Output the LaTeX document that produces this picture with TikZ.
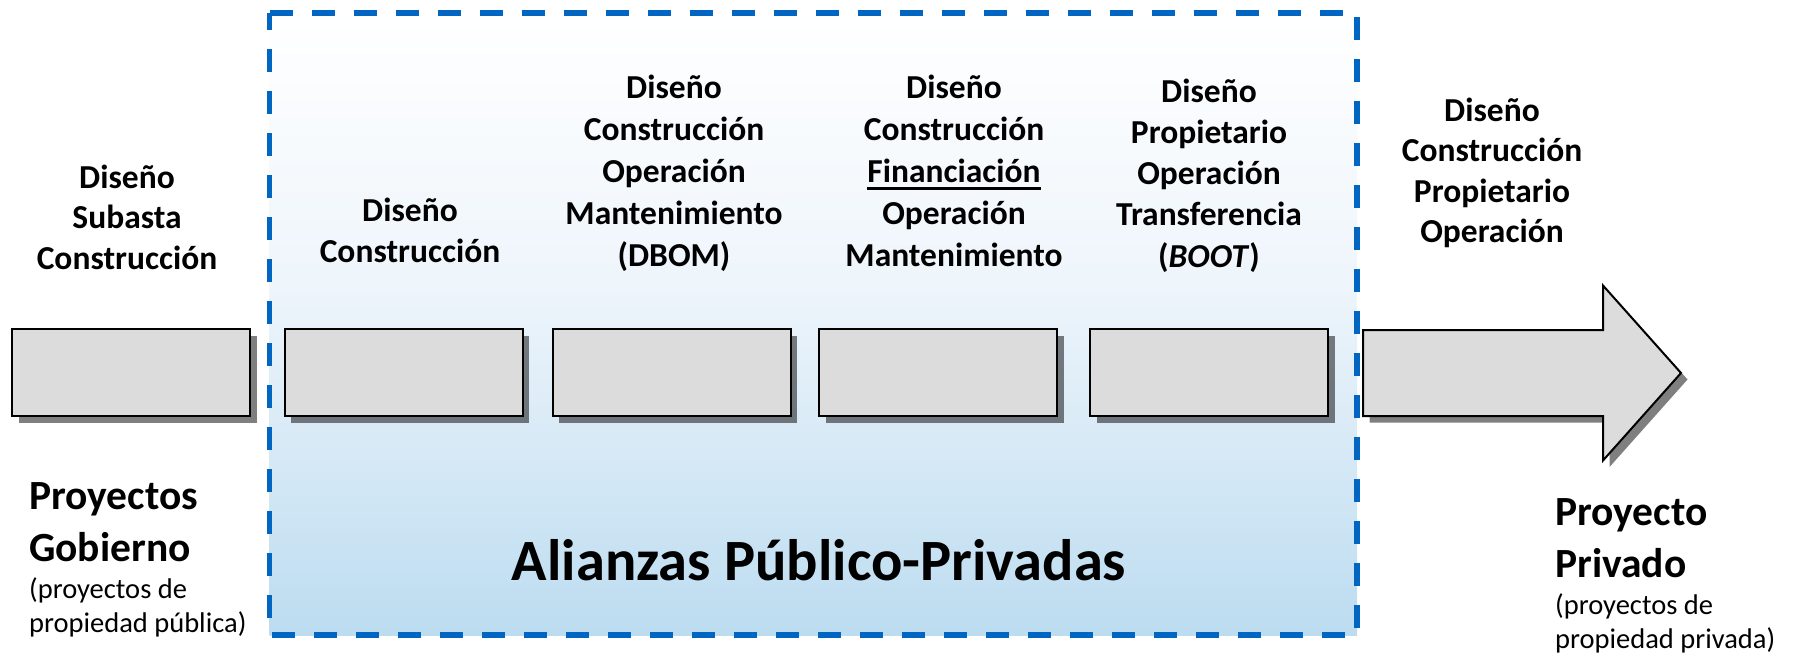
\documentclass[tikz,border=0pt]{standalone}
\usepackage{fontspec}
\setmainfont{Carlito}
\usetikzlibrary{shadows}
\definecolor{dashblue}{RGB}{0,102,194}
\definecolor{boxgray}{RGB}{220,220,220}
\definecolor{fillblue}{RGB}{188,220,240}
\definecolor{midblue}{RGB}{238,245,251}
\pgfdeclareverticalshading{pppshade}{100bp}{color(0bp)=(fillblue); color(25bp)=(fillblue); color(53bp)=(midblue); color(75bp)=(white); color(100bp)=(white)}
\newsavebox\ulbox
\newcommand\ulin[1]{\sbox\ulbox{#1}\rlap{\rule[-0.22em]{\wd\ulbox}{0.065em}}\usebox\ulbox}
\newcommand\topstrut{\rule{0pt}{0.9em}}
\tikzset{
  stepbox/.style={draw=black, line width=2pt, fill=boxgray, minimum width=238pt, minimum height=87pt, inner sep=0pt,
    drop shadow={shadow xshift=6.5pt, shadow yshift=-6.5pt, fill=black, opacity=0.5}},
  steplabel/.style={font=\fontsize{33.5}{40.5}\selectfont\bfseries, align=center, anchor=north, inner sep=0pt},
  widelabel/.style={steplabel, font=\fontsize{33.5}{42}\selectfont\bfseries},
  midlabel/.style={steplabel, font=\fontsize{33.5}{41.2}\selectfont\bfseries},
  projtitle/.style={font=\fontsize{41.5}{51.5}\selectfont\bfseries, align=left, anchor=north west, inner sep=0pt},
  projsub/.style={font=\fontsize{28.5}{34}\selectfont, align=left, anchor=north west, inner sep=0pt},
  bigtitle/.style={font=\fontsize{58.5}{70}\selectfont\bfseries, anchor=base, inner sep=0pt},
  arrowshape/.style={draw=black, line width=2pt, fill=boxgray, line join=miter,
    drop shadow={shadow xshift=6.5pt, shadow yshift=-6.5pt, fill=black, opacity=0.5}},
  pppborder/.style={draw=dashblue, line width=5.5pt, dash pattern=on 23pt off 19pt}
}
\begin{document}
\begin{tikzpicture}[x=1pt,y=-1pt]
\useasboundingbox (0,0) rectangle (1794,656);
% PPP region
\shade[shading=pppshade] (269.5,12.8) rectangle (1357,635);
% boxes
\node[stepbox] (b1) at (131,372.5) {};
\node[stepbox] (b2) at (403.5,372.5) {};
\node[stepbox] (b3) at (671.5,372.5) {};
\node[stepbox] (b4) at (938,372.5) {};
\node[stepbox] (b5) at (1209,372.5) {};
% arrow
\draw[arrowshape] (1363,330) -- (1603,330) -- (1603,285.5) -- (1681,373) -- (1603,460.5) -- (1603,416) -- (1363,416) -- cycle;
% dashed border
\draw[pppborder] (269.5,12.8) -- (1357,12.8) -- (1357,635) -- (269.5,635) -- cycle;
% labels
\node[steplabel] (l0) at (127,157.85) {\topstrut Diseño\\Subasta\\Construcción};
\node[midlabel] (l1) at (410,191.35) {\topstrut Diseño\\Construcción};
\node[widelabel] (l2) at (674,67.85) {\topstrut Diseño\\Construcción\\Operación\\Mantenimiento\\(DBOM)};
\node[widelabel] (l3) at (954,67.85) {\topstrut Diseño\\Construcción\\\ulin{Financiación}\\Operación\\Mantenimiento};
\node[midlabel] (l4) at (1209,71.85) {\topstrut Diseño\\Propietario\\Operación\\Transferencia\\(\textit{BOOT})};
\node[steplabel] (l5) at (1492,90.85) {\topstrut Diseño\\Construcción\\Propietario\\Operación};
% bottom texts
\node[projtitle] (gt) at (29,472.15) {\topstrut Proyectos\\Gobierno};
\node[projsub] (gs) at (29,572.35) {\topstrut (proyectos de\\propiedad pública)};
\node[projtitle] (pt) at (1555,488.15) {\topstrut Proyecto\\Privado};
\node[projsub] (ps) at (1555,588.35) {\topstrut (proyectos de\\propiedad privada)};
\node[bigtitle] (app) at (819,580) {Alianzas Público-Privadas};
\end{tikzpicture}
\end{document}
